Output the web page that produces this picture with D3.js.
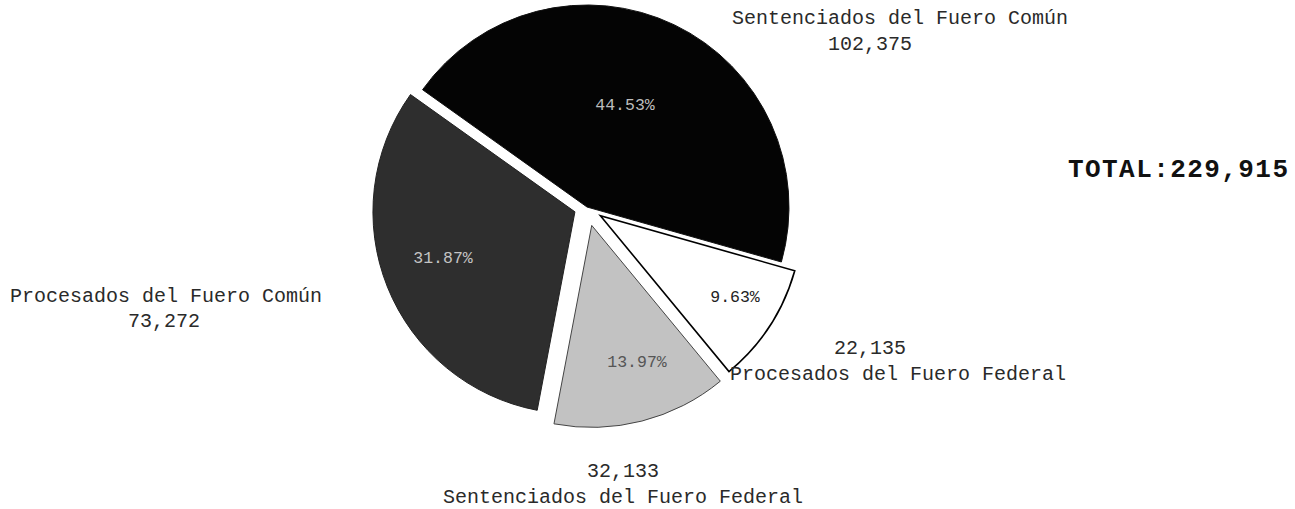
<!DOCTYPE html>
<html>
<head>
<meta charset="UTF-8">
<title></title>
<style>
    body { margin: 0; background: #fff; }
    svg { display: block; }
    text { font-family: "Courier New", "Liberation Mono", monospace; }
</style>
<script src="https://cdn.jsdelivr.net/npm/d3@7"></script>
</head>
<body>
<svg id="chart" width="1295" height="509"></svg>
<script>
    // data
    var categories = ['Sentenciados del Fuero Común', 'Procesados del Fuero Federal',
                      'Sentenciados del Fuero Federal', 'Procesados del Fuero Común'];
    var values = [102375, 22135, 32133, 73272];
    var percents = ['44.53%', '9.63%', '13.97%', '31.87%'];
    var totalLabel = 'TOTAL:229,915';

    var W = 1295, H = 509;
    var cx = 587, cy = 207, radius = 202;
    var startDeg = -54.5;

    var fills = ['#040404', '#ffffff', '#c2c2c2', '#2e2e2e'];
    var strokes = ['#111', '#000', '#444', '#222'];
    var pctColors = ['#bdbdbd', '#222', '#555', '#c4c4c4'];
    var explode = [0, 16, 19, 13];

    // layout of the text around the pie
    var pctPos = [[625, 110], [735, 302], [637, 367], [443, 263]];
    var namePos = [
        {name: [900, 24], value: [870, 50]},
        {name: [898, 380], value: [870, 354]},
        {name: [623, 503], value: [623, 477]},
        {name: [166, 302], value: [164, 327]}
    ];

    var svg = d3.select('#chart');
    var fmt = d3.format(',');

    var pie = d3.pie()
        .sort(null)
        .startAngle(startDeg * Math.PI / 180)
        .endAngle(startDeg * Math.PI / 180 + 2 * Math.PI)
        .value(function (d) { return d; });

    var arc = d3.arc().innerRadius(0).outerRadius(radius);

    var arcs = pie(values);

    var g = svg.append('g').attr('transform', 'translate(' + cx + ',' + cy + ')');

    g.selectAll('path')
        .data(arcs)
        .enter()
        .append('path')
        .attr('d', arc)
        .attr('fill', function (d, i) { return fills[i]; })
        .attr('stroke', function (d, i) { return strokes[i]; })
        .attr('stroke-width', function (d, i) { return i == 1 ? 1.6 : 1; })
        .attr('stroke-linejoin', 'miter')
        .attr('transform', function (d, i) {
            var a = (d.startAngle + d.endAngle) / 2;
            var dx = Math.sin(a) * explode[i], dy = -Math.cos(a) * explode[i];
            return 'translate(' + dx + ',' + dy + ')';
        });

    // percentages inside the slices
    svg.selectAll('text.pct')
        .data(arcs)
        .enter()
        .append('text')
        .attr('class', 'pct')
        .attr('x', function (d, i) { return pctPos[i][0]; })
        .attr('y', function (d, i) { return pctPos[i][1]; })
        .attr('text-anchor', 'middle')
        .attr('font-size', '16.5px')
        .attr('fill', function (d, i) { return pctColors[i]; })
        .text(function (d, i) { return percents[i]; });

    // category names and counts
    svg.selectAll('text.name')
        .data(categories)
        .enter()
        .append('text')
        .attr('class', 'name')
        .attr('x', function (d, i) { return namePos[i].name[0]; })
        .attr('y', function (d, i) { return namePos[i].name[1]; })
        .attr('text-anchor', 'middle')
        .attr('font-size', '20px')
        .attr('fill', '#2a2a2a')
        .text(function (d) { return d; });

    svg.selectAll('text.val')
        .data(values)
        .enter()
        .append('text')
        .attr('class', 'val')
        .attr('x', function (d, i) { return namePos[i].value[0]; })
        .attr('y', function (d, i) { return namePos[i].value[1]; })
        .attr('text-anchor', 'middle')
        .attr('font-size', '20px')
        .attr('fill', '#2a2a2a')
        .text(function (d) { return fmt(d); });

    svg.append('text')
        .attr('x', 1068)
        .attr('y', 177)
        .attr('font-size', '26px')
        .attr('font-weight', 'bold')
        .attr('fill', '#111')
        .attr('textLength', 220)
        .attr('lengthAdjust', 'spacing')
        .text(totalLabel);
</script>
</body>
</html>
